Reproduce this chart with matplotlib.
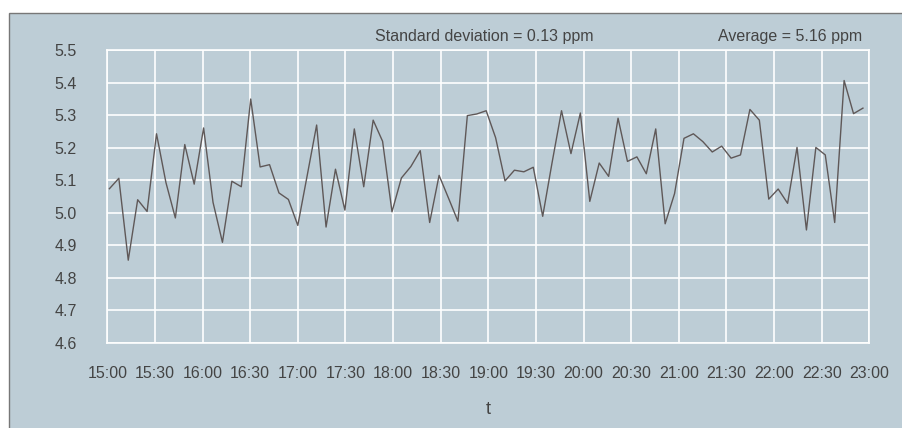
import pandas as pd
import matplotlib
matplotlib.use("Agg")
import matplotlib.pyplot as plt
import matplotlib.dates as mdates
from matplotlib.patches import Rectangle

plt.rcParams['font.family'] = ['Liberation Sans', 'DejaVu Sans']

# ppm readings, one roughly every 6 minutes from 15:01
ppm = [5.074, 5.106, 4.854, 5.040, 5.004, 5.243, 5.093, 4.984, 5.210, 5.088,
       5.261, 5.032, 4.909, 5.097, 5.080, 5.350, 5.141, 5.148, 5.061, 5.041,
       4.961, 5.115, 5.270, 4.956, 5.134, 5.008, 5.258, 5.080, 5.285, 5.220,
       5.003, 5.107, 5.142, 5.191, 4.970, 5.115, 5.045, 4.974, 5.299, 5.304,
       5.314, 5.231, 5.098, 5.131, 5.126, 5.140, 4.989, 5.155, 5.314, 5.182,
       5.307, 5.035, 5.153, 5.112, 5.291, 5.158, 5.172, 5.120, 5.258, 4.966,
       5.059, 5.229, 5.243, 5.219, 5.187, 5.205, 5.168, 5.178, 5.318, 5.285,
       5.042, 5.073, 5.029, 5.201, 4.947, 5.201, 5.178, 4.970, 5.407, 5.305,
       5.322]
times = pd.date_range("2000-01-01 15:01:20", periods=len(ppm), freq="356s")
t_start = pd.Timestamp("2000-01-01 15:00")
t_end = pd.Timestamp("2000-01-01 23:00")
y_ticks = [4.6, 4.7, 4.8, 4.9, 5.0, 5.1, 5.2, 5.3, 5.4, 5.5]
std_text = "Standard deviation = 0.13 ppm"
avg_text = "Average = 5.16 ppm"

bg = "#bdcdd6"
text_col = "#444444"

fig = plt.figure(figsize=(9.02, 4.28), dpi=100)
fig.patch.set_facecolor("white")
# grey panel behind everything
fig.patches.append(Rectangle((9 / 902, -0.01), 1.0, 1 - 13 / 428 + 0.01,
                             transform=fig.transFigure, facecolor=bg,
                             edgecolor="#777777", linewidth=1.0, zorder=-5))

ax = fig.add_axes([107.3 / 902, 1 - 342.7 / 428, 762 / 902, 292.4 / 428])
ax.set_facecolor(bg)
ax.plot(times, ppm, color="#5f5858", linewidth=1.0, zorder=3)

ax.set_xlim(t_start, t_end)
ax.set_ylim(4.6, 5.5)
ax.set_yticks(y_ticks)
ax.set_yticklabels([f"{v:.1f}" for v in y_ticks])
ax.xaxis.set_major_locator(mdates.MinuteLocator(byminute=[0, 30]))
ax.xaxis.set_major_formatter(mdates.DateFormatter("%H:%M"))

ax.grid(True, color="white", linewidth=1.2)
ax.set_axisbelow(True)
for s in ax.spines.values():
    s.set_color("white")
    s.set_linewidth(1.2)
ax.tick_params(length=0, labelsize=11.5, colors=text_col)
ax.tick_params(axis="x", pad=17)
ax.tick_params(axis="y", pad=22)

ax.set_xlabel("t", fontsize=13, color=text_col)
ax.xaxis.label.set_va("center")
ax.xaxis.set_label_coords(0.5, -(410 - 342.7) / 292.4)

fig.text(375 / 902, 1 - 37 / 428, std_text, ha="left", va="center",
         fontsize=11.5, color=text_col)
fig.text(862 / 902, 1 - 37 / 428, avg_text, ha="right", va="center",
         fontsize=11.5, color=text_col)

fig.savefig("out.png", dpi=100, facecolor=fig.get_facecolor())
